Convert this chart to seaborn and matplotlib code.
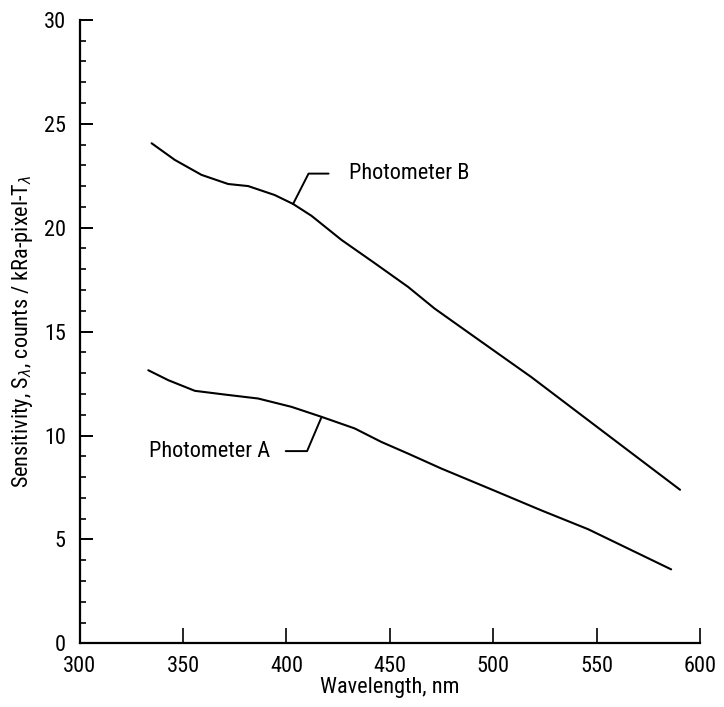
import matplotlib
matplotlib.use("Agg")
import matplotlib.pyplot as plt
import seaborn as sns
import pandas as pd
import numpy as np

# values
wl_b = [334.8, 346.0, 358.9, 371.8, 381.5, 394.3, 403.2, 412.1, 426.6, 442.7, 458.8, 471.6,
        490.0, 518.4, 552.2, 590.3]
sens_b = [24.06, 23.26, 22.54, 22.10, 22.00, 21.57, 21.14, 20.57, 19.41, 18.29, 17.15, 16.11,
          14.81, 12.81, 10.26, 7.39]

wl_a = [333.2, 342.9, 355.7, 370.2, 386.3, 402.4, 416.9, 433.0, 445.9, 458.8, 474.9,
        500.0, 523.2, 545.9, 586.0]
sens_a = [13.14, 12.66, 12.15, 11.97, 11.78, 11.38, 10.90, 10.34, 9.69, 9.13, 8.41,
          7.37, 6.40, 5.49, 3.56]

x_ticks = [300, 350, 400, 450, 500, 550, 600]
y_ticks = [0, 5, 10, 15, 20, 25, 30]

sns.set_style("ticks")
plt.rcParams['font.family'] = ['Roboto Condensed', 'DejaVu Sans']
plt.rcParams['font.stretch'] = 'condensed'
plt.rcParams['text.color'] = 'black'
plt.rcParams['axes.labelcolor'] = 'black'
plt.rcParams['xtick.color'] = 'black'
plt.rcParams['ytick.color'] = 'black'

df = pd.concat([
    pd.DataFrame({"wl": wl_a, "s": sens_a, "name": "Photometer A"}),
    pd.DataFrame({"wl": wl_b, "s": sens_b, "name": "Photometer B"}),
])

fig = plt.figure(figsize=(7.24, 7.07), dpi=100)
ax = fig.add_axes([0.110, 0.090, 0.857, 0.882])

sns.lineplot(data=df, x="wl", y="s", units="name", estimator=None,
             color="black", linewidth=1.5, ax=ax, legend=False, sort=False)

ax.set_xlim(300, 600)
ax.set_ylim(0, 30)
ax.set_xticks(x_ticks)
ax.set_yticks(y_ticks)
ax.set_yticks(np.arange(0, 31, 1), minor=True)
sns.despine(ax=ax)
for sp in ["left", "bottom"]:
    ax.spines[sp].set_linewidth(1.6)
    ax.spines[sp].set_color("black")
ax.tick_params(axis="x", direction="in", length=11, width=1.2, pad=9, labelsize=16)
ax.tick_params(axis="y", which="major", direction="in", length=9, width=1.4, pad=10, labelsize=16)
ax.tick_params(axis="y", which="minor", direction="in", length=4, width=1.2)

ax.set_xlabel("Wavelength, nm", fontsize=16, labelpad=0)
ax.set_ylabel(r"Sensitivity, S$_\lambda$, counts / kRa-pixel-T$_\lambda$", fontsize=16, labelpad=6)

# leader labels
ax.annotate("Photometer B", xy=(403.2, np.interp(403.2, wl_b, sens_b)), xytext=(430, 22.6),
            fontsize=16, ha="left", va="center",
            arrowprops=dict(arrowstyle="-", color="black", lw=1.4, shrinkA=12, shrinkB=0,
                            connectionstyle="angle,angleA=0,angleB=63,rad=0"))
ax.annotate("Photometer A", xy=(417, np.interp(417, wl_a, sens_a)), xytext=(392, 9.25),
            fontsize=16, ha="right", va="center",
            arrowprops=dict(arrowstyle="-", color="black", lw=1.4, shrinkA=9, shrinkB=0,
                            connectionstyle="angle,angleA=0,angleB=67,rad=0"))

fig.savefig("out.png", dpi=100)
